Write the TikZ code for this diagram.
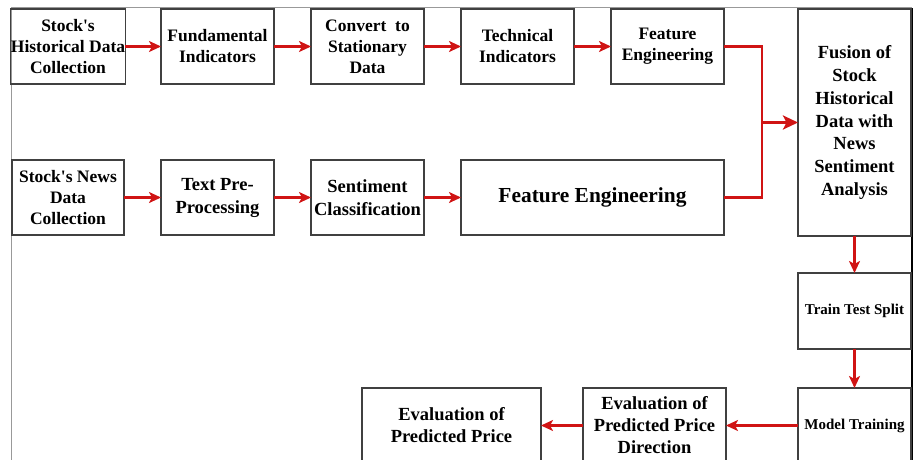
\documentclass[tikz,border=0pt]{standalone}
\usepackage{fontspec}
\setmainfont{Liberation Serif}[Ligatures=TeXOff]
\usetikzlibrary{arrows.meta}
\definecolor{boxline}{HTML}{404040}
\definecolor{arrred}{HTML}{D01414}
\begin{document}
\begin{tikzpicture}[x=1pt,y=-1pt,
  box/.style={draw=boxline,line width=1.2pt,inner sep=0pt,outer sep=0pt,align=center,
    minimum width=113pt,minimum height=75pt,font=\bfseries\fontsize{17.5}{21}\selectfont},
  flow/.style={draw=arrred,line width=2.1pt,-{Stealth[length=12pt,width=11pt,inset=3pt]}},
  bigflow/.style={draw=arrred,line width=3pt,-{Stealth[length=15pt,width=14pt,inset=3.5pt]}},
  joinline/.style={draw=arrred,line width=2.1pt}]
\useasboundingbox (0,0) rectangle (913,460);
% frame
\draw[draw=gray!80,line width=1pt] (11,460) -- (11,8) -- (912,8);
\draw[draw=black,line width=1.6pt] (912,8) -- (912,460);
% row 1
\node[box,minimum width=112pt] (b1) at (68,46.5) {Stock's\\Historical Data\\Collection};
\node[box] (b2) at (217.5,46.5) {Fundamental\\Indicators};
\node[box] (b3) at (367.5,46.5) {Convert~ to\\Stationary\\Data};
\node[box] (b4) at (517.5,46.5) {Technical\\Indicators};
\node[box] (b5) at (667.5,46.5) {Feature\\Engineering};
\node[box,minimum height=227pt,font=\bfseries\fontsize{18.5}{22.8}\selectfont] (fus) at (854.5,122.5) {Fusion of\\Stock\\Historical\\Data with\\News\\Sentiment\\Analysis};
% row 2
\node[box,minimum width=112pt] (b6) at (68,197.5) {Stock's News\\Data\\Collection};
\node[box,font=\bfseries\fontsize{18.5}{23}\selectfont] (b7) at (217.5,197.5) {Text Pre-\\Processing};
\node[box,font=\bfseries\fontsize{18.5}{23}\selectfont] (b8) at (367.5,197.5) {Sentiment\\Classification};
\node[box,minimum width=263pt,font=\bfseries\fontsize{21.4}{25}\selectfont] (b9) at (592.5,197.5) {Feature Engineering};
% right column and bottom
\node[box,minimum height=76pt,font=\bfseries\fontsize{15}{18}\selectfont] (tts) at (854.5,311) {Train Test Split};
\node[box,font=\bfseries\fontsize{15}{18}\selectfont] (mt) at (854.5,425.5) {Model Training};
\node[box,minimum width=143pt,font=\bfseries\fontsize{18.5}{22}\selectfont] (ed) at (654.5,425.5) {Evaluation of\\Predicted Price\\Direction};
\node[box,minimum width=179pt,font=\bfseries\fontsize{18.5}{22}\selectfont] (ep) at (451.5,425.5) {Evaluation of\\Predicted Price};
% arrows
\draw[flow] (b1) -- (b2);
\draw[flow] (b2) -- (b3);
\draw[flow] (b3) -- (b4);
\draw[flow] (b4) -- (b5);
\draw[flow] (b6) -- (b7);
\draw[flow] (b7) -- (b8);
\draw[flow] (b8) -- (b9);
\coordinate (jt) at (762,46.5);
\coordinate (jb) at (762,197.5);
\coordinate (jm) at (762,122.5);
\draw[joinline] (b5.east) -- (jt) -- (jb) -- (b9.east);
\draw[bigflow] (jm) -- (fus.west |- jm);
\draw[flow] (fus) -- (tts);
\draw[flow] (tts) -- (mt);
\draw[flow] (mt) -- (ed);
\draw[flow] (ed) -- (ep);
\end{tikzpicture}
\end{document}
